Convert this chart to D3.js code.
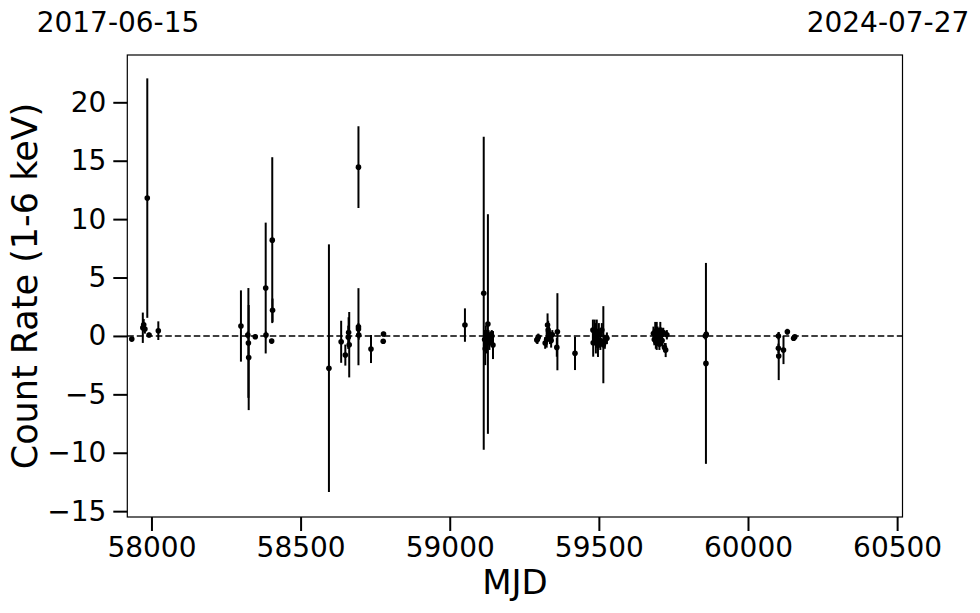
<!DOCTYPE html>
<html><head><meta charset="utf-8">
<script src="https://cdn.jsdelivr.net/npm/d3@7"></script>
<style>body{margin:0;background:#fff}svg{display:block}text{font-family:"DejaVu Sans",sans-serif;fill:#000}</style>
</head><body><div id="chart"></div>
<script>
const mjd = [57934,57971,57974,57978,57986,57992,58023,
58300,58323,58325,58326,58348,58383,58384,58403,58405,58406,
58595,58636,58650,58660,58661,58663,58694,58694,58695,58694,58736,58777,58778,
59051,59114,59128,59117,59119,59121,59124,59126,59130,59133,59137,59141,59145,
59292,59294,59297,59320,59325,59328,59330,59333,59336,59340,59344,59361,59359,59420,
59480,59481,59486,59490,59493,59497,59500,59505,59510,59515,59520,59527,
59683,59686,59689,59691,59694,59697,59700,59703,59706,59709,59712,59716,59720,59724,59728,
59857,59859,59860,
60102,60102,60103,60119,60132,60153,60157];
const rate = [-0.27,0.7,0.95,0.6,11.8,0.08,0.45,
0.85,0.08,-0.6,-1.85,-0.07,4.1,0.08,-0.44,8.2,2.2,
-2.76,-0.5,-1.64,-0.12,0.3,-0.75,0.79,0.6,0.08,14.45,-1.12,-0.46,0.16,
0.93,3.65,1.02,-0.3,-1.1,0.3,-0.6,-0.2,0.1,-0.5,-0.2,0.0,-0.78,
-0.35,-0.29,-0.1,-0.6,-0.3,0.93,0.5,0.2,-0.2,-0.4,0.1,0.36,-0.98,-1.49,
0.5,-0.58,0.3,-0.2,0.4,-0.8,0.1,-0.4,0.5,-0.75,-0.5,-0.2,
0.2,-0.3,0.4,-0.5,0.0,0.3,-0.2,-0.7,0.5,0.1,-0.4,0.3,-1.0,-1.21,0.1,
0.0,-2.35,0.15,
0.0,-1.06,-1.72,-1.21,0.36,-0.2,-0.07];
const err = [0.15,1.3,0.5,0.4,10.25,0.2,0.8,
3.05,0.3,4.7,4.5,0.2,5.6,0.3,0.2,7.1,1.0,
10.6,1.8,0.9,1.0,1.3,2.8,3.3,0.5,0.4,3.5,1.2,0.2,0.2,
1.43,13.4,9.4,0.8,1.4,0.6,0.9,0.5,0.4,0.7,0.6,0.5,1.2,
0.3,0.4,0.3,0.5,0.7,1.0,0.8,0.6,0.5,0.6,0.4,3.3,0.8,1.43,
0.9,1.2,1.1,1.3,1.0,1.0,1.0,0.8,0.6,3.3,0.6,0.5,
0.6,0.5,0.8,0.6,1.2,0.5,0.6,0.5,0.7,0.6,0.5,0.4,0.4,0.6,0.4,
0.3,8.6,0.3,
0.3,0.4,2.06,1.2,0.25,0.15,0.15];
const xTicks = [58000,58500,59000,59500,60000,60500];
const yTicks = [-15,-10,-5,0,5,10,15,20];
const topLabels = ["2017-06-15","2024-07-27"];
const xLabel = "MJD";
const yLabel = "Count Rate (1-6 keV)";

const W=980,H=613;
const L=127.3,R=902.5,T=55,B=517;
const svg=d3.select("#chart").append("svg").attr("width",W).attr("height",H);
const x=d3.scaleLinear().domain([57919,60518]).range([L,R]);
const y=d3.scaleLinear().domain([-15.5,24.05]).range([B,T]);

svg.append("line").attr("x1",L).attr("x2",R).attr("y1",y(0)).attr("y2",y(0))
  .attr("stroke","#000").attr("stroke-width",1.6).attr("stroke-dasharray","6.5,3");

const data=mjd.map((m,i)=>({m,r:rate[i],e:err[i]}));
const g=svg.append("g");
g.selectAll("line.eb").data(data).join("line").attr("class","eb")
  .attr("x1",d=>x(d.m)).attr("x2",d=>x(d.m))
  .attr("y1",d=>y(d.r-d.e)).attr("y2",d=>y(d.r+d.e))
  .attr("stroke","#000").attr("stroke-width",2);
g.selectAll("circle").data(data).join("circle")
  .attr("cx",d=>x(d.m)).attr("cy",d=>y(d.r)).attr("r",2.8).attr("fill","#000");

svg.append("rect").attr("x",L).attr("y",T).attr("width",R-L).attr("height",B-T)
  .attr("fill","none").attr("stroke","#000").attr("stroke-width",1.2);

const fmt=v=>v<0?"\u2212"+Math.abs(v):String(v);
const xa=svg.append("g").attr("transform",`translate(0,${B})`)
  .call(d3.axisBottom(x).tickValues(xTicks).tickSize(14).tickPadding(6).tickFormat(d=>String(d)));
const ya=svg.append("g").attr("transform",`translate(${L},0)`)
  .call(d3.axisLeft(y).tickValues(yTicks).tickSize(14).tickPadding(7).tickFormat(fmt));
[xa,ya].forEach(a=>{a.select(".domain").remove();
  a.selectAll(".tick line").attr("stroke","#000").attr("stroke-width",2);
  a.selectAll(".tick text").attr("font-family","DejaVu Sans").attr("font-size",28).attr("fill","#000");});

svg.append("text").attr("x",(L+R)/2).attr("y",594).attr("text-anchor","middle")
  .attr("font-size",34).text(xLabel);
svg.append("text").attr("transform",`translate(37,${(T+B)/2}) rotate(-90)`).attr("text-anchor","middle")
  .attr("font-size",35).text(yLabel);
svg.append("text").attr("x",118).attr("y",32).attr("text-anchor","middle").attr("font-size",28).text(topLabels[0]);
svg.append("text").attr("x",888).attr("y",32).attr("text-anchor","middle").attr("font-size",28).text(topLabels[1]);
</script></body></html>
